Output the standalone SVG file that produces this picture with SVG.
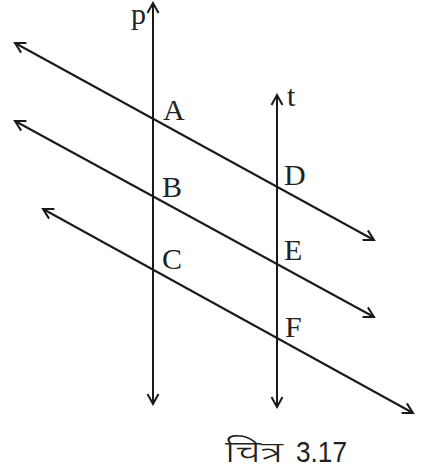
<svg xmlns="http://www.w3.org/2000/svg" width="427" height="475" viewBox="0 0 427 475">
<style>
.ln{stroke:#1a1a1a;stroke-width:2;fill:none;marker-start:url(#ah);marker-end:url(#ah)}
.lb{font-family:"Liberation Serif","Times New Roman",serif;font-size:30px;fill:#222}
.cap{font-family:"Liberation Sans","Noto Sans",sans-serif;font-size:30px;fill:#222}
</style>
<defs>
<marker id="ah" viewBox="-12 -7 14 14" markerWidth="14" markerHeight="14" refX="0" refY="0" orient="auto-start-reverse" markerUnits="userSpaceOnUse">
<path d="M-10,-5.5 L0,0 L-10,5.5" fill="none" stroke="#1a1a1a" stroke-width="2"/>
</marker>
</defs>
<g id="connectors">
<line class="ln" x1="153" y1="3" x2="153" y2="404"/>
<line class="ln" x1="277" y1="95" x2="277" y2="407"/>
<line class="ln" x1="15" y1="43" x2="374" y2="240"/>
<line class="ln" x1="15" y1="121" x2="374" y2="317"/>
<line class="ln" x1="43" y1="209" x2="413" y2="413"/>
</g>
<g id="labels">
<text class="lb" x="131" y="24">p</text>
<text class="lb" x="287" y="106">t</text>
<text class="lb" x="163" y="120">A</text>
<text class="lb" x="162" y="197">B</text>
<text class="lb" x="162" y="269">C</text>
<text class="lb" x="284" y="185">D</text>
<text class="lb" x="284" y="260">E</text>
<text class="lb" x="285" y="337">F</text>
</g>
<g id="caption">
<text class="cap" x="225" y="462" font-size="36" font-weight="300" textLength="58" lengthAdjust="spacingAndGlyphs">चित्र</text>
<text class="cap" x="296" y="462" textLength="51" lengthAdjust="spacingAndGlyphs">3.17</text>
</g>
</svg>
